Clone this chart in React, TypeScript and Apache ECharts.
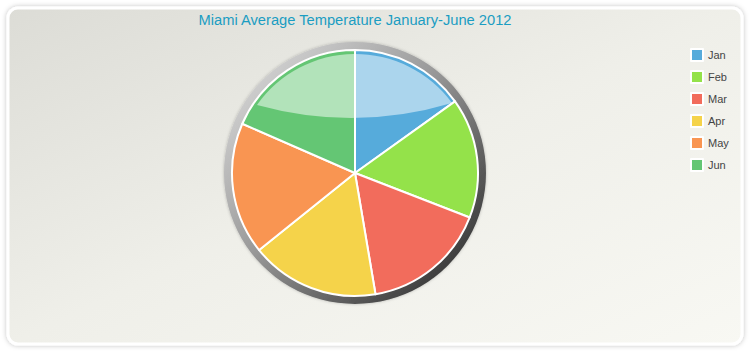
import React, { useEffect, useRef } from "react";
import * as echarts from "echarts";

const months = ["Jan", "Feb", "Mar", "Apr", "May", "Jun"];
const temps = [68, 71, 74, 76, 78, 83];
const colors = ["#56abdb", "#94e24a", "#f26c5c", "#f5d34a", "#f99552", "#64c674"];
const titleText = "Miami Average Temperature January-June 2012";

echarts.graphic.registerShape(
  "glossTop",
  echarts.graphic.extendPath(
    "M257 105 A120 120 0 0 1 452 103 Q355 132 257 105 Z",
    {}
  ) as any
);

export default function App() {
  const ref = useRef<HTMLDivElement>(null);
  useEffect(() => {
    document.body.style.margin = "0";
    const chart = echarts.init(ref.current!, null, { renderer: "svg" });
    chart.setOption({
      animation: false,
      backgroundColor: "#ffffff",
      textStyle: { fontFamily: "Liberation Sans, Arial, sans-serif" },
      title: {
        text: titleText,
        left: 355,
        top: 12,
        padding: 0,
        textAlign: "center",
        textStyle: {
          color: "#1b9dc2",
          fontSize: 14.7,
          fontWeight: "normal",
          fontFamily: "Liberation Sans, Arial, sans-serif",
        },
      },
      legend: {
        orient: "vertical",
        left: 690,
        top: 48,
        padding: 0,
        itemWidth: 12,
        itemHeight: 12,
        itemGap: 8,
        icon: "rect",
        data: months,
        textStyle: { color: "#444", fontSize: 11, padding: [0, 0, 0, 0] },
      },
      graphic: [
        {
          type: "rect",
          z: -10,
          silent: true,
          shape: { x: 8, y: 8, width: 734, height: 336, r: 10 },
          style: {
            fill: new echarts.graphic.LinearGradient(0, 0, 1, 1, [
              { offset: 0, color: "#dcdcd6" },
              { offset: 0.5, color: "#efefe9" },
              { offset: 1, color: "#f8f8f3" },
            ]),
            stroke: "#ffffff",
            lineWidth: 3,
            shadowBlur: 5,
            shadowColor: "rgba(0,0,0,0.25)",
          },
        },
        {
          type: "ring",
          z: 1,
          silent: true,
          shape: { cx: 355, cy: 173, r: 131, r0: 122 },
          style: {
            fill: new echarts.graphic.LinearGradient(0, 0, 1, 1, [
              { offset: 0, color: "#e4e4e4" },
              { offset: 0.45, color: "#9a9a9a" },
              { offset: 1, color: "#1e1e1e" },
            ]),
            shadowBlur: 3,
            shadowColor: "rgba(0,0,0,0.25)",
          },
        },
        {
          type: "glossTop",
          z: 100,
          silent: true,
          x: 0,
          y: 0,
          style: { fill: "rgba(255,255,255,0.5)" },
        },
      ],
      series: [
        {
          type: "pie",
          center: [355, 173],
          radius: 123,
          startAngle: 90,
          clockwise: true,
          label: { show: false },
          labelLine: { show: false },
          emphasis: { disabled: true },
          data: months.map((m, i) => ({
            name: m,
            value: temps[i],
            itemStyle: { color: colors[i] },
          })),
          itemStyle: { borderColor: "#ffffff", borderWidth: 2 },
        },
      ],
    });
    return () => chart.dispose();
  }, []);
  return <div ref={ref} style={{ width: 750, height: 360 }} />;
}
